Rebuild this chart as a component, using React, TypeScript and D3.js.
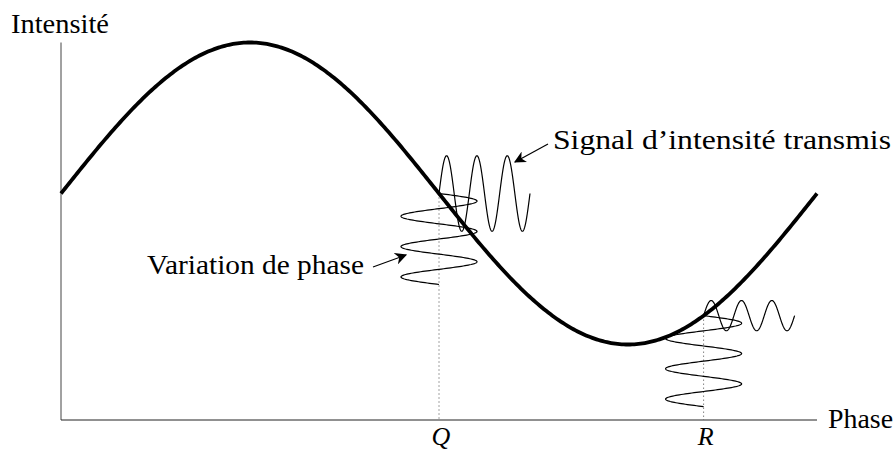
import React from 'react'
import * as d3 from 'd3'

// phase axis runs over one full period, intensity is normalised to [0, 1]
const phaseDomain = [0, 2 * Math.PI]
const intensityDomain = [0, 1]

// transmitted intensity I(phase) = offset + amplitude * sin(phase)
const curveOffset = 0.6
const curveAmplitude = 0.4
const curveStep = Math.PI / 180

// operating points on the phase axis
const markerLabels = ['Q', 'R']
const markerPhases = [Math.PI, 1.7 * Math.PI]
// modulation applied at each point (phase swing) and resulting intensity swing
const phaseSwings = [0.316, 0.316]
const intensitySwings = [0.1, 0.04]
const modulationCycles = 3

const axisLabels = { y: 'Intensité', x: 'Phase' }
const noteLabels = ['Signal d’intensité transmis', 'Variation de phase']

const W = 896
const H = 450
const FONT = '"Liberation Serif", "Times New Roman", serif'

const App: React.FC = () => {
  const x = d3.scaleLinear().domain(phaseDomain).range([61, 817])
  const y = d3.scaleLinear().domain(intensityDomain).range([420, 42.5])
  // time along the small modulation waves, in cycles -> pixels
  const t = d3.scaleLinear().domain([0, modulationCycles]).range([0, 91])

  const intensity = (p: number) => curveOffset + curveAmplitude * Math.sin(p)

  const phases = d3.range(phaseDomain[0], phaseDomain[1] + curveStep / 2, curveStep)
  const line = d3.line<number>()
    .x(p => x(p))
    .y(p => y(intensity(p)))

  const times = d3.range(0, modulationCycles + 0.001, 0.01)
  const wave = d3.line<[number, number]>().x(d => d[0]).y(d => d[1])

  return (
    <svg width={W} height={H} style={{ position: 'absolute', left: 0, top: 0, background: '#fff' }}
      fontFamily={FONT}>
      <defs>
        <marker id="tip" viewBox="0 0 10 10" refX="9" refY="5" markerWidth="12" markerHeight="12"
          markerUnits="userSpaceOnUse" orient="auto">
          <path d="M0,0 L10,5 L0,10 L3,5 Z" fill="#000" />
        </marker>
      </defs>

      {/* axes */}
      <line x1={x(phaseDomain[0])} x2={x(phaseDomain[0])} y1={y(1)} y2={y(0)} stroke="#444" strokeWidth={1} />
      <line x1={x(phaseDomain[0])} x2={x(phaseDomain[1])} y1={y(0)} y2={y(0)} stroke="#222" strokeWidth={1} />
      <text x={11} y={33} fontSize={27} textLength={98} lengthAdjust="spacingAndGlyphs">{axisLabels.y}</text>
      <text x={828} y={428} fontSize={27} textLength={65} lengthAdjust="spacingAndGlyphs">{axisLabels.x}</text>

      {/* dotted guides and point labels */}
      {markerPhases.map((p, i) => (
        <g key={markerLabels[i]}>
          <line x1={x(p)} x2={x(p)} y1={y(intensity(p))} y2={y(0)} stroke="#444"
            strokeWidth={1} strokeDasharray="1 3" />
          <text x={x(p) + 2} y={445} fontSize={26} fontStyle="italic" textAnchor="middle">
            {markerLabels[i]}
          </text>
        </g>
      ))}

      {/* modulation waves */}
      {markerPhases.map((p, i) => {
        const cx = x(p)
        const cy = y(intensity(p))
        const phaseWave = times.map(s => [
          x(p + phaseSwings[i] * Math.sin(2 * Math.PI * s)), cy + t(s)] as [number, number])
        const signalWave = times.map(s => [
          cx + t(s), y(intensity(p) + intensitySwings[i] * Math.sin(2 * Math.PI * s))] as [number, number])
        return (
          <g key={'w' + i} fill="none" stroke="#000" strokeWidth={1.2}>
            <path d={wave(phaseWave) || ''} />
            <path d={wave(signalWave) || ''} />
          </g>
        )
      })}

      {/* transmission curve */}
      <path d={line(phases) || ''} fill="none" stroke="#000" strokeWidth={3.8} />

      {/* annotations */}
      <line x1={548} y1={144} x2={515} y2={162} stroke="#000" strokeWidth={1.2} markerEnd="url(#tip)" />
      <text x={553} y={149} fontSize={27} textLength={338} lengthAdjust="spacingAndGlyphs">{noteLabels[0]}</text>
      <line x1={373} y1={267} x2={406} y2={255} stroke="#000" strokeWidth={1.2} markerEnd="url(#tip)" />
      <text x={147} y={274} fontSize={27} textLength={217} lengthAdjust="spacingAndGlyphs">{noteLabels[1]}</text>
    </svg>
  )
}

export default App
